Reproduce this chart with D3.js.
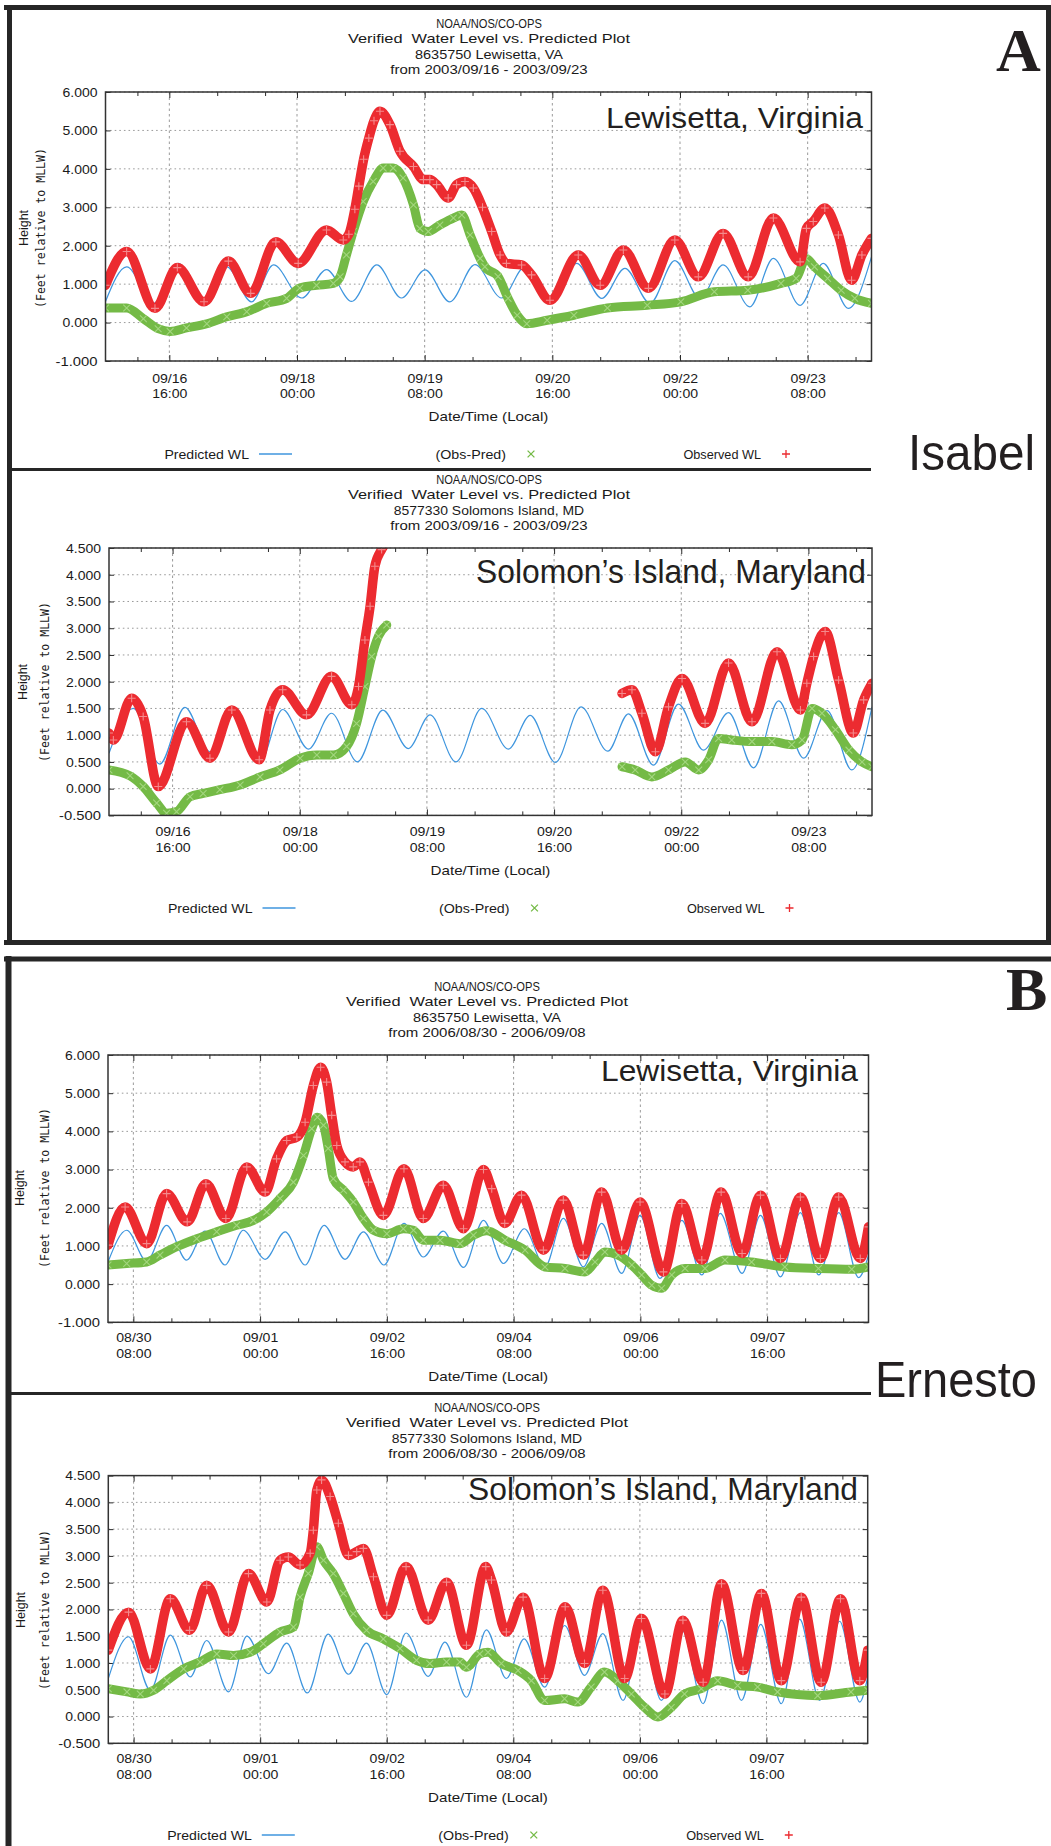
<!DOCTYPE html>
<html><head><meta charset="utf-8">
<script src="https://cdn.jsdelivr.net/npm/d3@7"></script>
<style>
body{margin:0;background:#fff}
svg text{white-space:pre}
</style></head><body>
<script>
// ---------------- DATA (hours since start of window, feet) ----------------
const xLabelsA = [["09/16","16:00"],["09/18","00:00"],["09/19","08:00"],["09/20","16:00"],["09/22","00:00"],["09/23","08:00"]];
const xMajorsA = [16,48,80,112,144,176];
const xLabelsB = [["08/30","08:00"],["09/01","00:00"],["09/02","16:00"],["09/04","08:00"],["09/06","00:00"],["09/07","16:00"]];
const xMajorsB = [8,48,88,128,168,208];
const yTicksLew = [-1,0,1,2,3,4,5,6];
const yTicksSol = [-0.5,0,0.5,1,1.5,2,2.5,3,3.5,4,4.5];

const predA1 = [[0,0.55],[5.3,1.45],[12,0.5],[18.3,1.54],[24.5,0.55],[30.4,1.45],[36.6,0.54],[42.1,1.5],[49.2,0.64],[55.4,1.38],[61.7,0.55],[68,1.5],[74.2,0.64],[80.1,1.37],[86.3,0.54],[92.6,1.51],[99.3,0.64],[105.1,1.45],[111.8,0.5],[118.1,1.54],[124.4,0.63],[130.2,1.41],[136.5,0.5],[142.7,1.61],[149,0.63],[154.8,1.5],[161.5,0.41],[167.4,1.67],[174.1,0.45],[179.9,1.54],[186.2,0.37],[192,1.71]];
const diffA1 = [[0,0.38],[5.3,0.38],[9.5,0.1],[13.2,-0.16],[16.2,-0.23],[20.3,-0.14],[25.4,-0.03],[30.4,0.15],[35.4,0.28],[40.4,0.5],[45.4,0.63],[48.7,0.9],[52.9,0.97],[57.1,1.02],[58.8,1.19],[60.4,1.76],[62.1,2.37],[64.6,3.15],[67.1,3.67],[69.6,4.02],[72.1,4.02],[74.6,3.76],[77.2,3.06],[78.8,2.45],[80.9,2.37],[83.8,2.54],[87.2,2.72],[89.3,2.8],[91.4,2.28],[93.9,1.67],[95.1,1.45],[98.4,1.2],[100.9,0.63],[103.2,0.19],[105.6,-0.03],[110.7,0.06],[117.4,0.19],[125.8,0.38],[135.8,0.45],[144.2,0.54],[152.6,0.8],[161,0.84],[169.3,1.02],[173.1,1.15],[175.6,1.67],[177.7,1.45],[181,1.15],[184.4,0.84],[187.8,0.63],[192,0.5]];
const obsA1 = [[0,0.97],[5.3,1.85],[12.4,0.37],[18,1.43],[24.7,0.54],[30.8,1.6],[36.4,0.76],[42.7,2.1],[48.3,1.54],[55.4,2.41],[59.6,2.15],[61,2.3],[62.5,2.95],[63.5,3.55],[64.7,4.25],[66,4.8],[67.3,5.25],[68.8,5.5],[71.3,5.15],[73.8,4.46],[77.2,4.06],[79.7,3.72],[81.3,3.72],[83,3.59],[85.9,3.24],[88,3.59],[90.1,3.67],[92.2,3.5],[94.5,3.0],[96.8,2.37],[98.9,1.76],[100.5,1.54],[104.3,1.5],[106.8,1.24],[111.4,0.58],[118.5,1.76],[124,0.97],[129.8,1.89],[136.1,0.89],[142.7,2.15],[148.6,1.19],[154.8,2.32],[161.1,1.19],[167.4,2.72],[174.1,1.58],[175.7,2.45],[177.4,2.63],[180.3,2.98],[183.7,2.28],[187,1.1],[189.6,1.76],[192,2.19]];

const predA2 = [[0,0.66],[6.1,1.5],[12.8,0.46],[19.1,1.52],[25.4,0.69],[31.7,1.45],[37.8,0.47],[43.7,1.48],[50.2,0.74],[56,1.41],[62.5,0.5],[68.9,1.47],[75.3,0.75],[80.8,1.38],[87.3,0.5],[93.8,1.5],[100.5,0.74],[106,1.37],[112.3,0.49],[118.8,1.53],[125.5,0.7],[130.7,1.4],[137,0.44],[143.3,1.58],[149.6,0.72],[155.9,1.42],[162.2,0.39],[168.5,1.64],[174.8,0.57],[180.7,1.46],[186.9,0.35],[192,1.53]];
const diffA2 = [[0,0.35],[5.3,0.24],[8.6,0.04],[12,-0.27],[14.5,-0.46],[17,-0.43],[20.4,-0.15],[23.7,-0.09],[27.9,-0.02],[33,0.07],[38,0.22],[43,0.35],[48.1,0.57],[52.3,0.63],[56.5,0.63],[59.8,0.79],[62.3,1.22],[64.4,1.91],[66.1,2.47],[67.8,2.85],[69.9,3.06],[100,null],[129.1,0.41],[132.4,0.35],[136.6,0.22],[140.8,0.35],[145,0.5],[148.4,0.35],[150.9,0.54],[153.4,0.94],[156.7,0.91],[161.8,0.88],[166.8,0.88],[171.8,0.82],[174.4,0.91],[176.9,1.5],[179.4,1.41],[182.8,1.1],[186.2,0.72],[189.5,0.5],[192,0.41]];
const obsA2 = [[0,1.04],[1.1,0.91],[5.7,1.69],[8.6,1.35],[12.4,0.04],[19.5,1.25],[25.4,0.57],[30.9,1.47],[37.8,0.54],[40.5,1.47],[43.7,1.85],[49.7,1.38],[56,2.1],[61.1,1.57],[62.8,1.91],[64.4,2.78],[65.7,3.41],[66.9,4.16],[68.6,4.47],[69.9,4.62],[100,null],[129.1,1.78],[131.6,1.85],[134.1,1.41],[137.5,0.69],[140.8,1.53],[144.2,2.06],[150,1.22],[155.9,2.35],[161.8,1.25],[168.1,2.56],[174,1.47],[175.6,1.97],[177.3,2.47],[180.2,2.94],[183.6,2.03],[187.3,1.04],[189.9,1.66],[192,1.97]];

const predB1 = [[0,0.58],[5.9,1.41],[12.2,0.6],[18.5,1.54],[24.8,0.63],[30.6,1.39],[36.9,0.5],[42.7,1.41],[49.6,0.65],[55.9,1.37],[62.2,0.5],[68.2,1.54],[74.8,0.65],[80.6,1.37],[87.1,0.5],[93.4,1.59],[99.5,0.71],[105.8,1.39],[112.2,0.44],[118.5,1.67],[124.8,0.54],[131.4,1.45],[137.9,0.45],[143.7,1.72],[150,0.45],[155.8,1.59],[162.1,0.28],[167.9,1.8],[174.2,0.15],[181.1,1.67],[187.4,0.24],[193.2,1.85],[200.1,0.28],[205.9,1.8],[212.2,0.19],[218.5,1.87],[224.3,0.24],[230.6,1.87],[236.9,0.17],[240,0.76]];
const diffB1 = [[0,0.5],[5.9,0.54],[12.2,0.58],[16.4,0.76],[21.7,0.98],[28,1.19],[34.3,1.37],[40.6,1.54],[45.9,1.67],[50.1,1.89],[54.3,2.24],[58.5,2.67],[61.7,3.37],[64.3,4.07],[66.1,4.37],[68,4.16],[69.5,3.55],[71.1,2.76],[74.3,2.46],[77.4,2.15],[80.6,1.72],[83.8,1.41],[88,1.32],[93.2,1.45],[96.4,1.41],[99.5,1.15],[104.8,1.15],[111.1,1.06],[115.3,1.28],[119.5,1.4],[125.3,1.15],[131.6,0.89],[137.9,0.45],[144.2,0.41],[150.5,0.32],[153.7,0.58],[156.8,0.84],[161,0.76],[165.3,0.5],[168.4,0.24],[171.6,-0.03],[174.7,-0.11],[177.9,0.24],[182.1,0.41],[188.4,0.41],[194.7,0.63],[203.1,0.58],[213.6,0.45],[224.2,0.41],[234.7,0.39],[240,0.45]];
const obsB1 = [[0,1.02],[5.4,2.02],[12.2,1.06],[18.5,2.37],[25,1.63],[30.9,2.63],[37.2,1.72],[43.8,3.07],[49.6,2.41],[53.2,3.28],[56.4,3.76],[59.6,3.85],[62.2,4.24],[64.8,5.2],[67.1,5.68],[69,5.29],[70.6,4.42],[72.2,3.63],[74.8,3.2],[77.4,3.07],[79.5,3.2],[82.2,2.67],[86.9,1.8],[93.4,3.02],[99.5,1.72],[105.8,2.59],[112.2,1.45],[118.5,3.0],[121.1,2.5],[125.2,1.59],[130.5,2.33],[137.4,0.89],[143.7,2.2],[150,0.76],[155.8,2.41],[162.1,0.89],[167.9,2.15],[175.3,0.32],[181.1,2.11],[187.4,0.63],[193.5,2.41],[200.1,0.8],[205.9,2.33],[212.2,0.67],[218.5,2.28],[224.8,0.67],[230.6,2.28],[237.4,0.67],[240,1.5]];

const predB2 = [[0,0.71],[6.4,1.49],[13.3,0.49],[19.6,1.52],[25.9,0.74],[31.1,1.42],[38,0.46],[43.8,1.5],[50.6,0.8],[56.4,1.37],[62.9,0.44],[69.5,1.54],[75.9,0.79],[81.6,1.37],[88,0.41],[94.1,1.56],[101.1,0.75],[106.4,1.39],[113.2,0.36],[119.5,1.62],[125.8,0.71],[131.4,1.45],[137.9,0.55],[144.2,1.7],[150.5,0.77],[156.3,1.55],[162.7,0.3],[168.5,1.67],[174.8,0.3],[181.3,1.62],[188,0.24],[193.8,1.8],[200.1,0.3],[206.2,1.72],[212.7,0.24],[218.5,1.82],[224.8,0.3],[231.1,1.78],[237.5,0.27],[240,0.74]];
const diffB2 = [[0,0.52],[5.9,0.46],[10.1,0.42],[14.3,0.49],[18.5,0.67],[23.8,0.89],[29,1.02],[34.3,1.17],[39.6,1.14],[44.8,1.2],[49,1.36],[54.3,1.58],[58.5,1.67],[60.6,2.23],[63.2,2.67],[65.9,3.17],[68,2.92],[71.1,2.67],[74.3,2.3],[77.4,1.92],[81.6,1.61],[86.9,1.45],[92.2,1.27],[97.4,1.05],[101.6,0.99],[106.9,1.02],[111.1,1.02],[113.2,0.92],[117.4,1.17],[120,1.2],[124.2,0.99],[129.5,0.86],[133.7,0.67],[137.9,0.3],[144.2,0.33],[148.4,0.27],[152.6,0.55],[156.8,0.83],[161,0.67],[165.3,0.42],[169.5,0.17],[173.7,-0.01],[177.9,0.17],[182.1,0.42],[187.4,0.52],[192.6,0.67],[198.9,0.58],[205.2,0.55],[211.5,0.46],[224.2,0.39],[234.7,0.46],[240,0.49]];
const obsB2 = [[0,1.24],[6.4,1.95],[13.3,0.89],[19.6,2.2],[25.7,1.61],[31.1,2.45],[38,1.58],[44.3,2.67],[50.1,2.14],[54.3,2.92],[56.9,2.98],[60.6,2.83],[63.8,3.05],[64.8,3.48],[65.9,4.23],[67.4,4.42],[70.1,4.11],[72.7,3.61],[75.9,3.01],[78.5,3.08],[80.6,3.14],[83.8,2.61],[88,1.89],[94.1,2.8],[101.1,1.8],[106.9,2.51],[113.2,1.33],[119.3,2.8],[121.1,2.55],[125.8,1.58],[131.1,2.23],[137.9,0.71],[144.4,2.05],[150.5,0.99],[156.3,2.36],[163.2,0.71],[168.5,1.83],[175.9,0.42],[181.6,1.8],[188,0.64],[193.8,2.48],[200.6,0.86],[206.4,2.3],[212.7,0.67],[219,2.23],[225.3,0.64],[231.4,2.2],[237.5,0.67],[240,1.24]];

const titlesA1 = ["NOAA/NOS/CO-OPS","Verified  Water Level vs. Predicted Plot","8635750 Lewisetta, VA","from 2003/09/16 - 2003/09/23"];
const titlesA2 = ["NOAA/NOS/CO-OPS","Verified  Water Level vs. Predicted Plot","8577330 Solomons Island, MD","from 2003/09/16 - 2003/09/23"];
const titlesB1 = ["NOAA/NOS/CO-OPS","Verified  Water Level vs. Predicted Plot","8635750 Lewisetta, VA","from 2006/08/30 - 2006/09/08"];
const titlesB2 = ["NOAA/NOS/CO-OPS","Verified  Water Level vs. Predicted Plot","8577330 Solomons Island, MD","from 2006/08/30 - 2006/09/08"];
const legendNames = ["Predicted WL","(Obs-Pred)","Observed WL"];

// ---------------- LAYOUT ----------------
const W=1051,H=1846;
const COL={pred:'#3f96de',diff:'#74ba46',diffM:'#a3d67f',obs:'#ec2b30',obsM:'#f48a8c',ink:'#1a1a1a',frame:'#262626'};
const FONT='"Liberation Sans", Arial, sans-serif';
const FS=13.5;
const svg=d3.select('body').append('svg').attr('width',W).attr('height',H).style('display','block');
svg.append('rect').attr('width',W).attr('height',H).attr('fill','#fff');

function gtext(g,x,y,s,anchor){
  return g.append('text').attr('x',x).attr('y',y).attr('dominant-baseline','central')
    .attr('text-anchor',anchor||'middle').attr('font-family',FONT).attr('font-size',FS)
    .attr('fill',COL.ink).attr('textLength',s.length*7.05).attr('lengthAdjust','spacingAndGlyphs').text(s);
}

const plots=[
 {left:105.5,right:871.5,top:92,bottom:361,yDom:[-1,6],yTicks:yTicksLew,hours:192,majors:xMajorsA,labels:xLabelsA,
  titles:titlesA1,cx:489,titleY:[23,38,54,69],tickY:[378,393],dateY:416,legendY:454,
  hX:23.5,fX:41,ylY:228,pred:predA1,diff:diffA1,obs:obsA1,
  station:"Lewisetta, Virginia",stX:863,stY:128,stSize:30,stLen:257},
 {left:109,right:872,top:548,bottom:815.4,yDom:[-0.5,4.5],yTicks:yTicksSol,hours:192,majors:xMajorsA,labels:xLabelsA,
  titles:titlesA2,cx:489,titleY:[479,494,510,525],tickY:[832,848],dateY:870,legendY:908,
  hX:22.5,fX:44.5,ylY:682,pred:predA2,diff:diffA2,obs:obsA2,
  station:"Solomon\u2019s Island, Maryland",stX:866,stY:583,stSize:33,stLen:390},
 {left:108,right:868.5,top:1055,bottom:1322.3,yDom:[-1,6],yTicks:yTicksLew,hours:240,majors:xMajorsB,labels:xLabelsB,
  titles:titlesB1,cx:487,titleY:[986,1001,1017,1032],tickY:[1338,1354],dateY:1376,legendY:null,
  hX:19.5,fX:44.5,ylY:1188,pred:predB1,diff:diffB1,obs:obsB1,
  station:"Lewisetta, Virginia",stX:858,stY:1081,stSize:30,stLen:257},
 {left:108.3,right:867.7,top:1475.6,bottom:1743.3,yDom:[-0.5,4.5],yTicks:yTicksSol,hours:240,majors:xMajorsB,labels:xLabelsB,
  titles:titlesB2,cx:487,titleY:[1407,1422,1438,1453],tickY:[1759,1775],dateY:1797,legendY:1835,
  hX:21,fX:44.5,ylY:1610,pred:predB2,diff:diffB2,obs:obsB2,
  station:"Solomon\u2019s Island, Maryland",stX:858,stY:1500,stSize:32,stLen:390}
];

const plusPath='M-4,0H4M0,-4V4';
const xPath='M-3.4,-3.4L3.4,3.4M-3.4,3.4L3.4,-3.4';

plots.forEach((p,pi)=>{
  const x=d3.scaleLinear().domain([0,p.hours]).range([p.left,p.right]);
  const y=d3.scaleLinear().domain(p.yDom).range([p.bottom,p.top]);
  const g=svg.append('g');

  p.titles.forEach((s,i)=>gtext(g,p.cx,p.titleY[i],s));

  // grid
  g.append('g').selectAll('line').data(p.yTicks).join('line')
    .attr('x1',p.left).attr('x2',p.right).attr('y1',d=>y(d)).attr('y2',d=>y(d))
    .attr('stroke','#9a9a9a').attr('stroke-width',1).attr('stroke-dasharray','1.6,3');
  g.append('g').selectAll('line').data(p.majors).join('line')
    .attr('x1',d=>x(d)).attr('x2',d=>x(d)).attr('y1',p.top).attr('y2',p.bottom)
    .attr('stroke','#9a9a9a').attr('stroke-width',1).attr('stroke-dasharray','2.5,3');

  // minor ticks: 12h and 24h after each major
  const step=p.majors[1]-p.majors[0];
  const minors=[];
  [p.majors[0]-step,...p.majors].forEach(m=>[12,24].forEach(o=>{const v=m+o; if(v>0&&v<p.hours) minors.push(v);}));

  const axG=g.append('g').attr('stroke-width',1);
  const yl=axG.append('g').attr('transform',`translate(${p.left},0)`)
    .call(d3.axisLeft(y).tickValues(p.yTicks).tickSize(-5).tickPadding(8).tickFormat(d=>d.toFixed(3)));
  yl.selectAll('text').attr('font-family',FONT).attr('font-size',FS).attr('fill',COL.ink)
    .each(function(){const s=this.textContent; d3.select(this).attr('textLength',s.length*7).attr('lengthAdjust','spacingAndGlyphs');});
  axG.append('g').attr('transform',`translate(${p.right},0)`)
    .call(d3.axisRight(y).tickValues(p.yTicks).tickSize(-5).tickFormat(''));
  const xb=axG.append('g').attr('transform',`translate(0,${p.bottom})`)
    .call(d3.axisBottom(x).tickValues(p.majors).tickSize(-6).tickFormat(''));
  xb.selectAll('.tick').each(function(d,i){
    const t=d3.select(this);
    gtext(t,0,p.tickY[0]-p.bottom,p.labels[i][0]);
    gtext(t,0,p.tickY[1]-p.bottom,p.labels[i][1]);
  });
  axG.append('g').attr('transform',`translate(0,${p.bottom})`)
    .call(d3.axisBottom(x).tickValues(minors).tickSize(-4).tickFormat(''));
  axG.append('g').attr('transform',`translate(0,${p.top})`)
    .call(d3.axisTop(x).tickValues(p.majors).tickSize(-6).tickFormat(''));
  axG.append('g').attr('transform',`translate(0,${p.top})`)
    .call(d3.axisTop(x).tickValues(minors).tickSize(-4).tickFormat(''));
  axG.selectAll('.domain').remove();
  axG.selectAll('.tick line').attr('stroke','#2a2a2a');

  // station label
  g.append('text').attr('x',p.stX).attr('y',p.stY).attr('text-anchor','end')
    .attr('font-family','"Liberation Sans", Arial, sans-serif').attr('font-size',p.stSize)
    .attr('fill','#231f20').attr('textLength',p.stLen).attr('lengthAdjust','spacingAndGlyphs').text(p.station);

  // series
  const cid='clip'+pi;
  svg.append('defs').append('clipPath').attr('id',cid).append('rect')
    .attr('x',p.left).attr('y',p.top).attr('width',p.right-p.left).attr('height',p.bottom-p.top);
  const dg=g.append('g').attr('clip-path',`url(#${cid})`);
  const line=d3.line().defined(d=>d[1]!=null).x(d=>x(d[0])).y(d=>y(d[1])).curve(d3.curveMonotoneX);

  dg.append('path').attr('d',line(p.pred)).attr('fill','none').attr('stroke',COL.pred).attr('stroke-width',1.2);

  dg.append('path').attr('d',line(p.diff)).attr('fill','none').attr('stroke',COL.diff)
    .attr('stroke-width',9).attr('stroke-linejoin','round').attr('stroke-linecap','round');
  dg.append('g').selectAll('path').data(p.diff.filter(d=>d[1]!=null)).join('path')
    .attr('transform',d=>`translate(${x(d[0])},${y(d[1])})`).attr('d',xPath)
    .attr('stroke',COL.diffM).attr('stroke-width',1.1).attr('fill','none');

  dg.append('path').attr('d',line(p.obs)).attr('fill','none').attr('stroke',COL.obs)
    .attr('stroke-width',9.5).attr('stroke-linejoin','round').attr('stroke-linecap','round');
  dg.append('g').selectAll('path').data(p.obs.filter(d=>d[1]!=null)).join('path')
    .attr('transform',d=>`translate(${x(d[0])},${y(d[1])})`).attr('d',plusPath)
    .attr('stroke',COL.obsM).attr('stroke-width',1.1).attr('fill','none');

  // frame
  g.append('rect').attr('x',p.left).attr('y',p.top).attr('width',p.right-p.left).attr('height',p.bottom-p.top)
    .attr('fill','none').attr('stroke','#333').attr('stroke-width',1.5);

  // axis titles
  gtext(g,(p.left+p.right)/2,p.dateY,"Date/Time (Local)");
  g.append('text').attr('transform',`translate(${p.hX},${p.ylY}) rotate(-90)`).attr('text-anchor','middle')
    .attr('dominant-baseline','central').attr('font-family',FONT).attr('font-size',12.5).attr('fill',COL.ink).text('Height');
  g.append('text').attr('transform',`translate(${p.fX},${p.ylY}) rotate(-90)`).attr('text-anchor','middle')
    .attr('dominant-baseline','central').attr('font-family','"DejaVu Sans Mono","Liberation Mono",monospace')
    .attr('font-size',11.5).attr('fill',COL.ink).attr('textLength',160).attr('lengthAdjust','spacingAndGlyphs')
    .text('(Feet relative to MLLW)');

  // legend
  if(p.legendY!=null){
    const L=p.left, ly=p.legendY;
    gtext(g,L+143.5,ly,legendNames[0],'end');
    g.append('line').attr('x1',L+153.5).attr('x2',L+186.5).attr('y1',ly).attr('y2',ly).attr('stroke',COL.pred).attr('stroke-width',1.5);
    gtext(g,L+400.5,ly,legendNames[1],'end');
    g.append('path').attr('transform',`translate(${L+425.5},${ly})`).attr('d',xPath).attr('stroke',COL.diff).attr('stroke-width',1.3);
    gtext(g,L+655.5,ly,legendNames[2],'end');
    g.append('path').attr('transform',`translate(${L+680.5},${ly})`).attr('d',plusPath).attr('stroke',COL.obs).attr('stroke-width',1.3);
  }
});

// ---------------- PANEL FRAMES & LABELS ----------------
const fr=svg.append('g').attr('stroke',COL.frame).attr('fill','none');
// Panel A
fr.append('line').attr('x1',4).attr('x2',W).attr('y1',7.5).attr('y2',7.5).attr('stroke-width',5);
fr.append('line').attr('x1',9.5).attr('x2',9.5).attr('y1',5).attr('y2',945).attr('stroke-width',5);
fr.append('line').attr('x1',1048.5).attr('x2',1048.5).attr('y1',5).attr('y2',945).attr('stroke-width',5);
fr.append('line').attr('x1',4).attr('x2',W).attr('y1',942.5).attr('y2',942.5).attr('stroke-width',5);
fr.append('line').attr('x1',9).attr('x2',871).attr('y1',469.5).attr('y2',469.5).attr('stroke-width',3);
// Panel B
fr.append('line').attr('x1',4).attr('x2',W).attr('y1',959).attr('y2',959).attr('stroke-width',5);
fr.append('line').attr('x1',8.5).attr('x2',8.5).attr('y1',956).attr('y2',H).attr('stroke-width',6);
fr.append('line').attr('x1',9).attr('x2',871).attr('y1',1393.5).attr('y2',1393.5).attr('stroke-width',3);

const lab=svg.append('g').attr('fill','#231f20');
lab.append('text').attr('x',996).attr('y',71).attr('font-family','"Liberation Serif","Times New Roman",serif')
  .attr('font-weight','bold').attr('font-size',62).text('A');
lab.append('text').attr('x',1006).attr('y',1010).attr('font-family','"Liberation Serif","Times New Roman",serif')
  .attr('font-weight','bold').attr('font-size',62).text('B');
lab.append('text').attr('x',908).attr('y',470).attr('font-family','"Liberation Sans", Arial, sans-serif')
  .attr('font-size',50).attr('textLength',127).attr('lengthAdjust','spacingAndGlyphs').text('Isabel');
lab.append('text').attr('x',875).attr('y',1397).attr('font-family','"Liberation Sans", Arial, sans-serif')
  .attr('font-size',50).attr('textLength',162).attr('lengthAdjust','spacingAndGlyphs').text('Ernesto');
</script>
</body></html>
